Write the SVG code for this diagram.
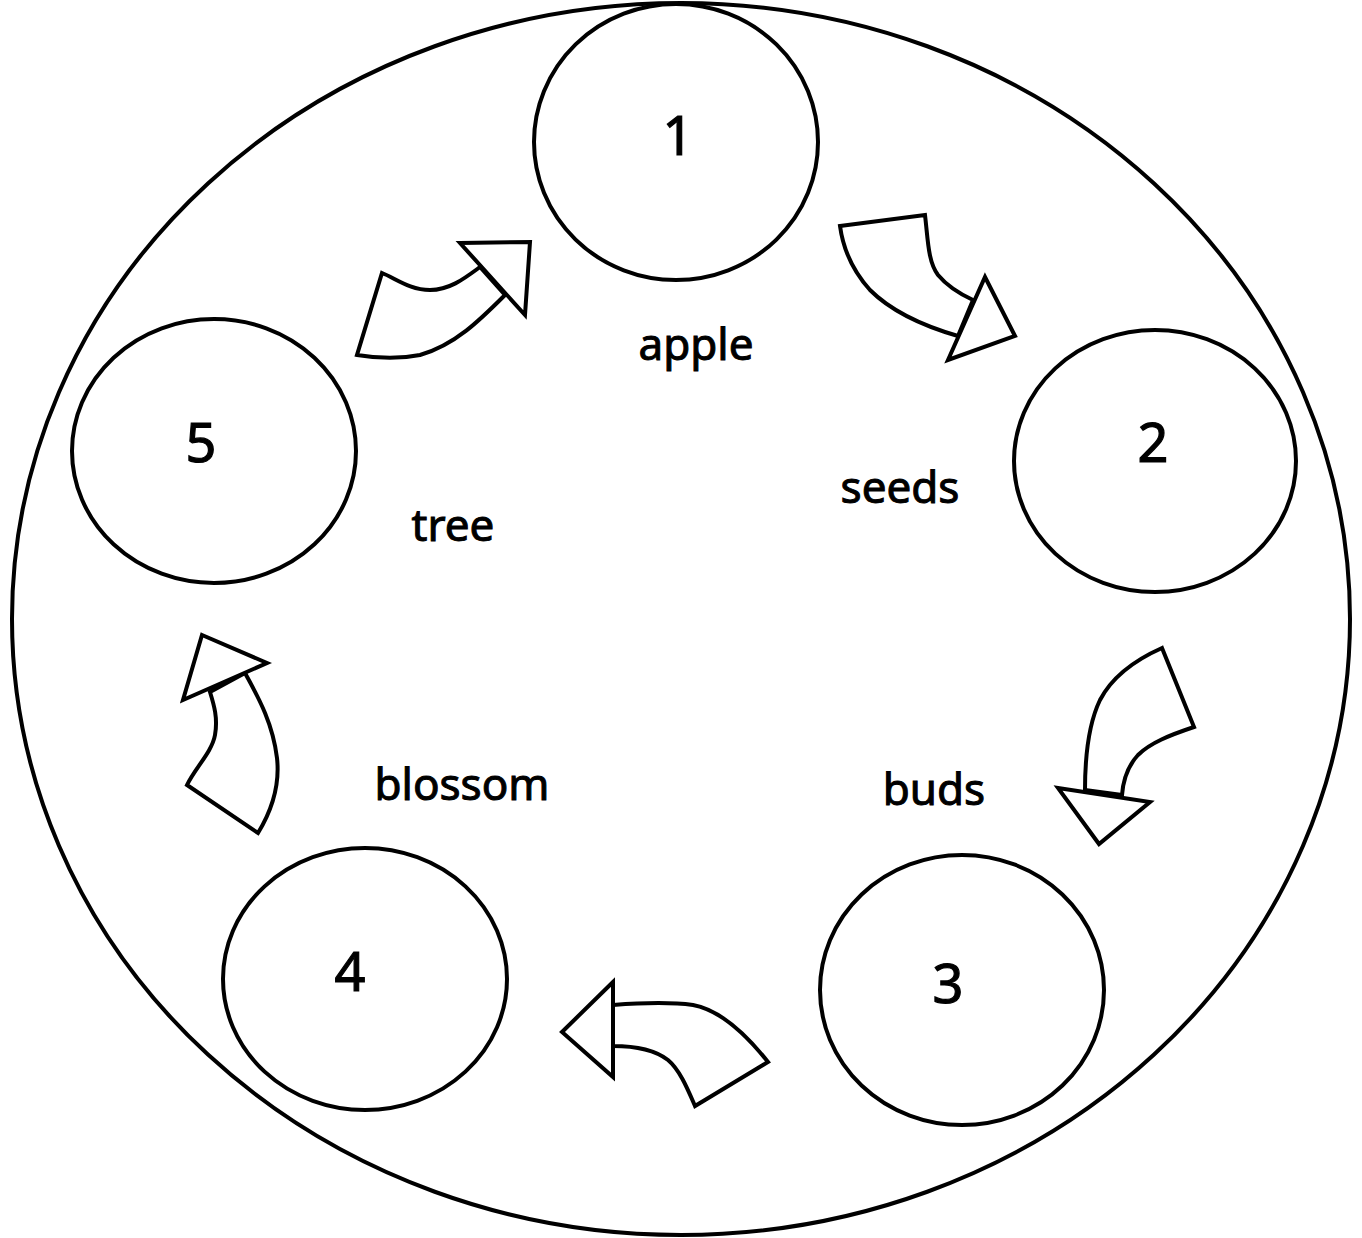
<svg xmlns="http://www.w3.org/2000/svg" width="1362" height="1238" viewBox="0 0 1362 1238">
<style>
.o{fill:#fff;stroke:#000;stroke-width:4}
.a{fill:#fff;stroke:#000;stroke-width:4;stroke-linejoin:miter}
.n{font-family:"Noto Sans","DejaVu Sans",sans-serif;font-size:54px;fill:#000;stroke:#000;stroke-width:1.2;text-anchor:middle}
.l{font-family:"Noto Sans","DejaVu Sans",sans-serif;font-size:44px;fill:#000;stroke:#000;stroke-width:1;text-anchor:middle}
</style>
<rect width="1362" height="1238" fill="#fff"/>
<ellipse class="o" cx="681" cy="619" rx="669" ry="616"/>
<g id="connectors">
<g id="arrow-1-2">
<path class="a" d="M840,226 L925,215 C928,240 928,262 938,275 C948,287 960,294 973,300 L958,336 C920,325 890,310 870,290 C852,270 843,248 840,226 Z"/>
<path class="a" d="M985,277 L1015,336 L948,360 Z"/>
</g>
<g id="arrow-2-3">
<path class="a" d="M1162,648 L1194,727 C1170,735 1150,743 1138,755 C1126,768 1123,782 1122,795 L1085,790 C1085,760 1088,725 1100,700 C1112,677 1135,660 1162,648 Z"/>
<path class="a" d="M1058,788 L1150,802 L1099,844 Z"/>
</g>
<g id="arrow-3-4">
<path class="a" d="M613,1005 C640,1003 670,1002 693,1005 C720,1010 745,1033 768,1062 L695,1106 C688,1090 680,1070 668,1060 C655,1050 635,1046 613,1046 Z"/>
<path class="a" d="M613,982 L562,1032 L613,1077 Z"/>
</g>
<g id="arrow-4-5">
<path class="a" d="M210,692 C214,705 218,718 215,735 C212,752 195,768 187,785 L258,833 C272,810 280,785 277,758 C273,725 260,700 245,673 Z"/>
<path class="a" d="M202,635 L267,663 L183,700 Z"/>
</g>
<g id="arrow-5-1">
<path class="a" d="M480,267 C465,278 450,290 430,290 C410,290 395,278 382,273 L357,355 C375,358 395,360 420,355 C455,345 480,320 505,295 Z"/>
<path class="a" d="M460,243 L530,242 L525,315 Z"/>
</g>
</g>
<g id="node-1"><ellipse class="o" cx="676" cy="142" rx="142" ry="138"/><text class="n" x="678" y="155">1</text></g>
<g id="node-2"><ellipse class="o" cx="1155" cy="461" rx="141" ry="131"/><text class="n" x="1153" y="462">2</text></g>
<g id="node-3"><ellipse class="o" cx="962" cy="990" rx="142" ry="135"/><text class="n" x="948" y="1003">3</text></g>
<g id="node-4"><ellipse class="o" cx="365" cy="979" rx="142" ry="131"/><text class="n" x="350" y="991">4</text></g>
<g id="node-5"><ellipse class="o" cx="214" cy="451" rx="142" ry="132"/><text class="n" x="201" y="462">5</text></g>
<g id="labels">
<text class="l" x="696" y="360">apple</text>
<text class="l" x="900" y="503">seeds</text>
<text class="l" x="453" y="541">tree</text>
<text class="l" x="462" y="800">blossom</text>
<text class="l" x="934" y="805">buds</text>
</g>
</svg>
